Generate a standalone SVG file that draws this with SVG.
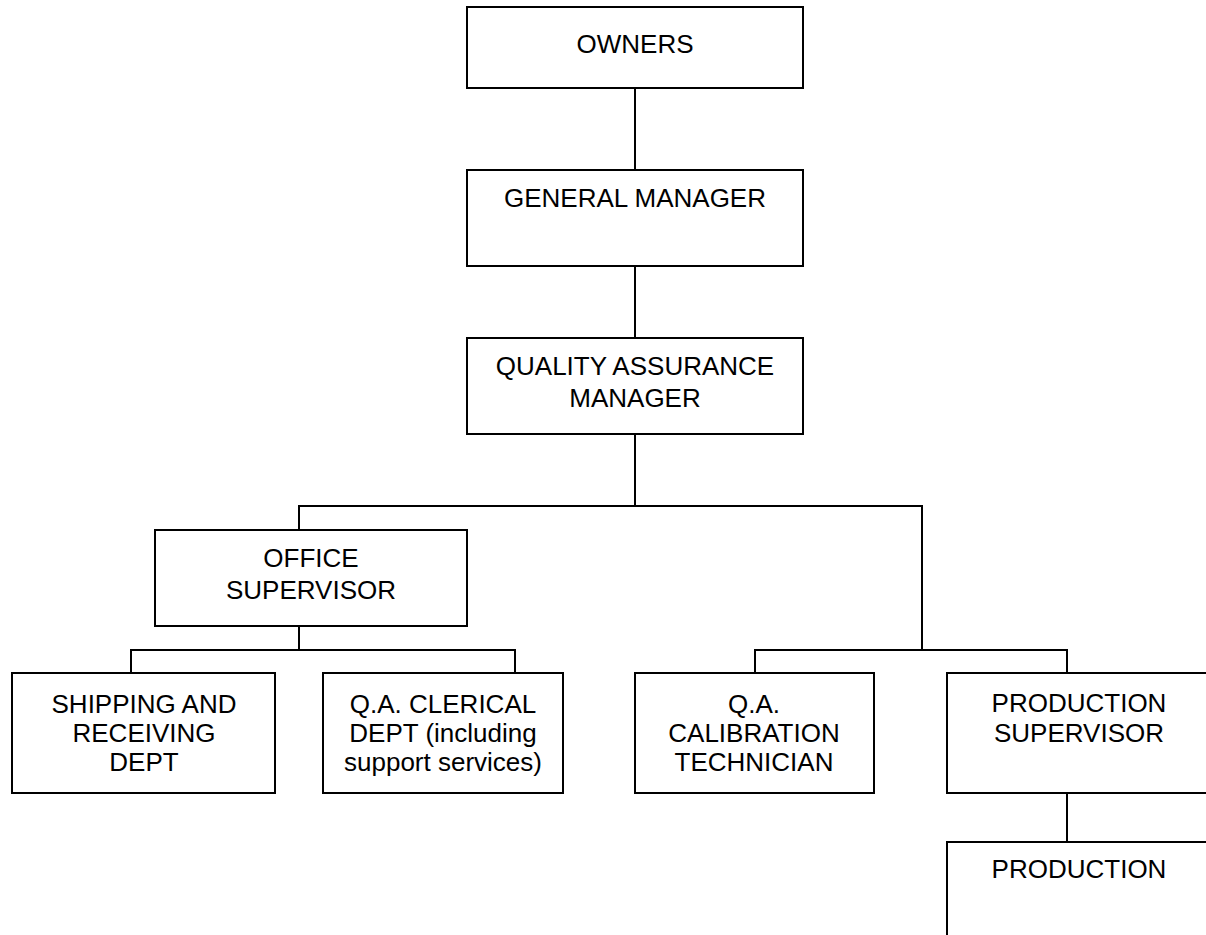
<svg xmlns="http://www.w3.org/2000/svg" width="1206" height="935" viewBox="0 0 1206 935">
<style>
.box{fill:#fff;stroke:#000;stroke-width:2}
.t{font-family:"Liberation Sans",Arial,sans-serif;font-size:26px;fill:#000;text-anchor:middle}
.c{stroke:#000;stroke-width:2;fill:none}
</style>
<rect width="1206" height="935" fill="#fff"/>
<g id="connectors">
<line class="c" x1="635" y1="88" x2="635" y2="170"/>
<line class="c" x1="635" y1="266" x2="635" y2="338"/>
<line class="c" x1="635" y1="434" x2="635" y2="506"/>
<polyline class="c" points="299,530 299,506 922,506 922,650"/>
<polyline class="c" points="755,673 755,650 1067,650 1067,673"/>
<line class="c" x1="299" y1="626" x2="299" y2="650"/>
<polyline class="c" points="131,673 131,650 515,650 515,673"/>
<line class="c" x1="1067" y1="793" x2="1067" y2="842"/>
</g>
<g id="owners">
<rect class="box" x="467" y="7" width="336" height="81"/>
<text class="t" x="635" y="53">OWNERS</text>
</g>
<g id="general-manager">
<rect class="box" x="467" y="170" width="336" height="96"/>
<text class="t" x="635" y="207">GENERAL MANAGER</text>
</g>
<g id="qa-manager">
<rect class="box" x="467" y="338" width="336" height="96"/>
<text class="t" x="635" y="375">QUALITY ASSURANCE</text>
<text class="t" x="635" y="407">MANAGER</text>
</g>
<g id="office-supervisor">
<rect class="box" x="155" y="530" width="312" height="96"/>
<text class="t" x="311" y="567">OFFICE</text>
<text class="t" x="311" y="599">SUPERVISOR</text>
</g>
<g id="shipping">
<rect class="box" x="12" y="673" width="263" height="120"/>
<text class="t" x="144" y="713">SHIPPING AND</text>
<text class="t" x="144" y="742">RECEIVING</text>
<text class="t" x="144" y="771">DEPT</text>
</g>
<g id="clerical">
<rect class="box" x="323" y="673" width="240" height="120"/>
<text class="t" x="443" y="713">Q.A. CLERICAL</text>
<text class="t" x="443" y="742">DEPT (including</text>
<text class="t" x="443" y="771">support services)</text>
</g>
<g id="calibration">
<rect class="box" x="635" y="673" width="239" height="120"/>
<text class="t" x="754" y="713">Q.A.</text>
<text class="t" x="754" y="742">CALIBRATION</text>
<text class="t" x="754" y="771">TECHNICIAN</text>
</g>
<g id="production-supervisor">
<rect class="box" x="947" y="673" width="264" height="120"/>
<text class="t" x="1079" y="712">PRODUCTION</text>
<text class="t" x="1079" y="742">SUPERVISOR</text>
</g>
<g id="production">
<rect class="box" x="947" y="842" width="264" height="120"/>
<text class="t" x="1079" y="878">PRODUCTION</text>
</g>
</svg>
